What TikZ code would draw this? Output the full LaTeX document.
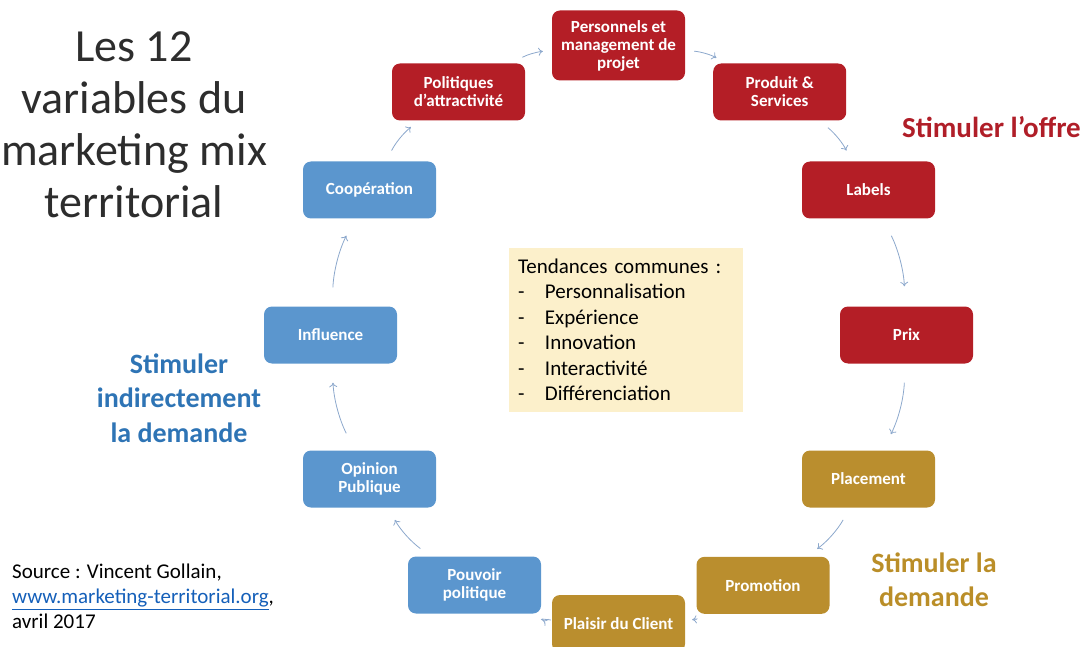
\documentclass[tikz,border=0pt]{standalone}
\usepackage{fontspec}
\setmainfont{Carlito}
\usetikzlibrary{arrows.meta}
\definecolor{boxred}{RGB}{180,30,38}
\definecolor{boxblue}{RGB}{91,150,206}
\definecolor{boxgold}{RGB}{186,142,46}
\definecolor{txtred}{RGB}{176,30,40}
\definecolor{txtblue}{RGB}{46,116,181}
\definecolor{txtgold}{RGB}{186,142,40}
\definecolor{titlec}{RGB}{45,45,45}
\definecolor{trendfill}{RGB}{252,240,203}
\definecolor{arrowc}{RGB}{140,168,204}
\definecolor{urlblue}{RGB}{20,95,185}
\begin{document}
\begin{tikzpicture}[x=1pt,y=1pt,
  box/.style={rounded corners=8pt, minimum width=133pt, minimum height=57pt,
    text=white, font=\bfseries\fontsize{17}{18}\selectfont, align=center, inner sep=2pt},
  redbox/.style={box, fill=boxred},
  bluebox/.style={box, fill=boxblue},
  goldbox/.style={box, fill=boxgold},
  arr/.style={draw=arrowc, line width=0.8pt, -{To[length=4.5pt,width=8pt]}},
  side/.style={font=\bfseries\fontsize{28}{34.5}\selectfont, align=center}
]
\useasboundingbox (0,0) rectangle (1083,646);
\clip (0,0) rectangle (1083,646);

% title
\node[font=\fontsize{46}{52}\selectfont, align=center, text=titlec, inner sep=0] (title) at (134,520.8)
  {Les 12\\variables du\\marketing mix\\territorial};

% cycle boxes
\node[redbox, minimum height=70pt] (pers) at (618.5,600.5) {Personnels et\\management de\\projet};
\node[redbox] (pol) at (458.5,554) {Politiques\\d’attractivité};
\node[redbox] (prod) at (779.7,554) {Produit \&\\Services};
\node[redbox] (labels) at (868.5,456) {Labels};
\node[redbox] (prix) at (906.5,311) {Prix};
\node[goldbox] (place) at (868.5,167) {Placement};
\node[goldbox] (promo) at (763,60.7) {Promotion};
\node[goldbox] (plaisir) at (618.5,22.5) {Plaisir du Client};
\node[bluebox] (pouvoir) at (474.5,61) {Pouvoir\\politique};
\node[bluebox] (opinion) at (369.5,167) {Opinion\\Publique};
\node[bluebox] (influence) at (330.5,311) {Influence};
\node[bluebox] (coop) at (369.5,456) {Coopération};

% arrows
\draw[arr, shorten <=12pt, shorten >=9pt] (pol) to[bend left=12] (pers);
\draw[arr, shorten <=9pt, shorten >=11pt] (pers) to[bend left=12] (prod);
\draw[arr, shorten <=11pt, shorten >=12pt] (prod) to[bend left=12] (labels);
\draw[arr, shorten <=19pt, shorten >=20pt] (labels) to[bend left=12] (prix);
\draw[arr, shorten <=19pt, shorten >=18pt] (prix) to[bend left=12] (place);
\draw[arr, shorten <=14pt, shorten >=13pt] (place) to[bend left=12] (promo);
\draw[arr, shorten <=12pt, shorten >=7pt] (promo) to[bend left=12] (plaisir);
\draw[arr, shorten <=1pt, shorten >=14pt] (plaisir) to[bend left=12] (pouvoir);
\draw[arr, shorten <=13pt, shorten >=14pt] (pouvoir) to[bend left=12] (opinion);
\draw[arr, shorten <=19pt, shorten >=19pt] (opinion) to[bend left=12] (influence);
\draw[arr, shorten <=19pt, shorten >=19pt] (influence) to[bend left=12] (coop);
\draw[arr, shorten <=12pt, shorten >=10pt] (coop) to[bend left=12] (pol);

% center box
\node[fill=trendfill, minimum width=234pt, minimum height=164pt, text width=216pt,
      inner xsep=9pt, inner ysep=0pt, align=left, text=black,
      font=\fontsize{21}{25.5}\selectfont] (trend) at (626,316)
  {Tendances communes :\\
   \makebox[27pt][l]{-}Personnalisation\\
   \makebox[27pt][l]{-}Expérience\\
   \makebox[27pt][l]{-}Innovation\\
   \makebox[27pt][l]{-}Interactivité\\
   \makebox[27pt][l]{-}Différenciation};

% side labels
\node[side, text=txtred, font=\bfseries\fontsize{29}{35}\selectfont] (offre) at (991.5,519.2) {Stimuler l’offre};
\node[side, text=txtblue] (indir) at (179,248) {Stimuler\\indirectement\\la demande};
\node[side, text=txtgold] (dem) at (934,66.3) {Stimuler la\\demande};

% source
\node[anchor=west, inner sep=0, align=left, font=\fontsize{21}{25}\selectfont, text=black] (src) at (12,49.4)
  {Source : Vincent Gollain,\\{\color{urlblue}\underline{www.marketing-territorial.org}},\\avril 2017};
\end{tikzpicture}
\end{document}
